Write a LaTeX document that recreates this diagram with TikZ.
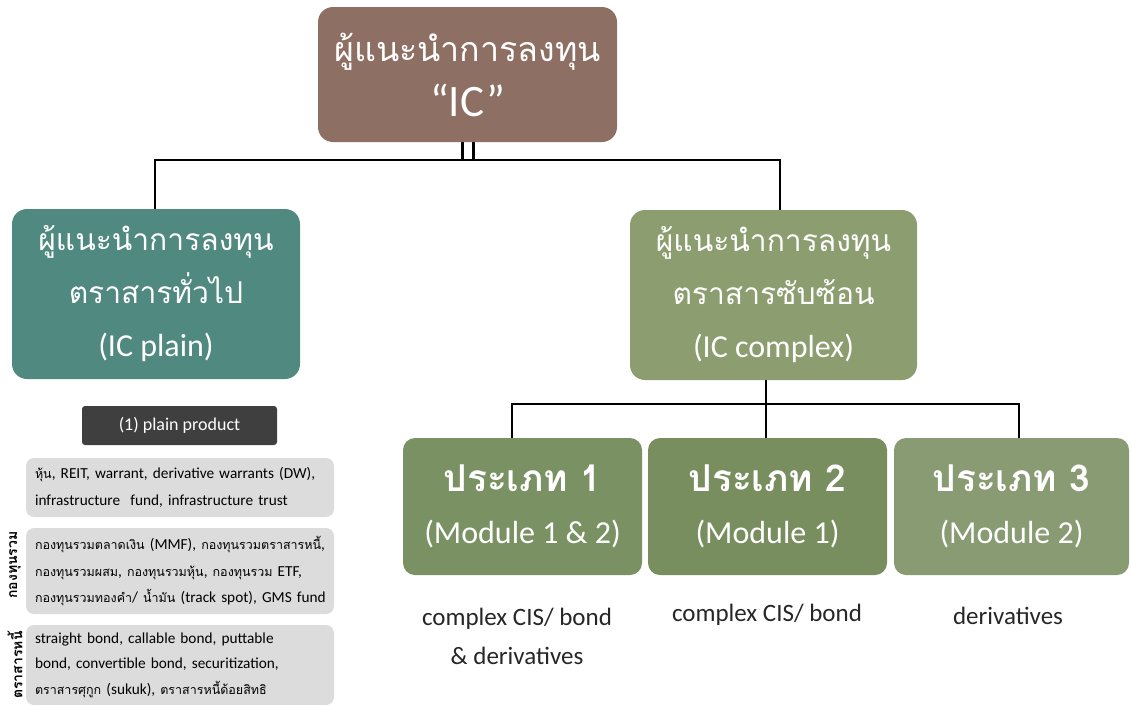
\documentclass[tikz,border=0pt]{standalone}
\usepackage{fontspec}
\setmainfont{Carlito}
\newfontfamily\thf[Script=Thai]{Loma}
\newcommand{\TT}[1]{{\thf\fontsize{12.5}{27}\selectfont #1}}
\definecolor{topc}{HTML}{8E6F64}
\definecolor{tealc}{HTML}{508980}
\definecolor{cplxc}{HTML}{8C9E70}
\definecolor{tonec}{HTML}{7A9263}
\definecolor{ttwoc}{HTML}{798E5F}
\definecolor{tthreec}{HTML}{899B73}
\definecolor{darkc}{HTML}{3F3F3F}
\definecolor{grayc}{HTML}{DCDCDC}
\begin{document}
\begin{tikzpicture}[x=1pt,y=-1pt,
  bigbox/.style={rounded corners=15pt, text=white, align=center, inner sep=0pt},
  typebox/.style={rounded corners=12pt, text=white, align=center, inner sep=0pt, minimum width=239pt, minimum height=137pt},
  graybox/.style={rounded corners=8pt, fill=grayc, minimum width=308pt, align=left, inner sep=0pt, text width=290pt},
  conn/.style={line width=2.2pt, black},
  lbl/.style={align=center, font=\fontsize{25}{39}\selectfont, text=black!85},
  side/.style={rotate=90, font=\thf\bfseries\fontsize{14}{16}\selectfont}]
\useasboundingbox (0,0) rectangle (1131,704);
% top
\node[bigbox, fill=topc, minimum width=299pt, minimum height=135pt,
  font=\fontsize{45}{55}\selectfont] (top) at (467.5,74.5)
  {{\thf\fontsize{34}{55}\selectfont ผู้แนะนำการลงทุน}\\“IC”};
\node[bigbox, fill=tealc, minimum width=288pt, minimum height=170pt,
  font=\fontsize{32}{53}\selectfont] (plain) at (156,294)
  {{\thf\fontsize{30}{53}\selectfont ผู้แนะนำการลงทุน}\\{\thf\fontsize{30}{53}\selectfont ตราสารทั่วไป}\\(IC plain)};
\node[bigbox, fill=cplxc, minimum width=287pt, minimum height=170pt,
  font=\fontsize{32}{53}\selectfont] (cplx) at (773.5,295)
  {{\thf\fontsize{30}{53}\selectfont ผู้แนะนำการลงทุน}\\{\thf\fontsize{30}{53}\selectfont ตราสารซับซ้อน}\\(IC complex)};
% types
\node[typebox, fill=tonec, font=\fontsize{32}{52}\selectfont] (t1) at (522.5,506.5)
  {{\thf\bfseries\fontsize{37}{52}\selectfont ประเภท 1}\\(Module 1 \& 2)};
\node[typebox, fill=ttwoc, font=\fontsize{32}{52}\selectfont] (t2) at (767.5,506.5)
  {{\thf\bfseries\fontsize{37}{52}\selectfont ประเภท 2}\\(Module 1)};
\node[typebox, fill=tthreec, minimum width=235pt, font=\fontsize{32}{52}\selectfont] (t3) at (1011.5,506.5)
  {{\thf\bfseries\fontsize{37}{52}\selectfont ประเภท 3}\\(Module 2)};
% labels
\node[lbl] (l1) at (517,636) {complex CIS/ bond\\\& derivatives};
\node[lbl] (l2) at (767,615) {complex CIS/ bond};
\node[lbl] (l3) at (1008,616) {derivatives};
% plain product
\node[rounded corners=3pt, fill=darkc, text=white, minimum width=195pt, minimum height=39pt,
  font=\fontsize{18}{20}\selectfont] (pp) at (179.5,425.5) {(1) plain product};
\node[graybox, minimum height=59pt, font=\fontsize{15.3}{27}\selectfont] (g1) at (180,487.5)
  {\mbox{\TT{หุ้น}, REIT, warrant, derivative warrants (DW),}\\\mbox{infrastructure\ \ fund, infrastructure trust}};
\node[graybox, minimum height=86pt, font=\fontsize{15.3}{26.5}\selectfont] (g2) at (180,571)
  {\mbox{\TT{กองทุนรวมตลาดเงิน} (MMF), \TT{กองทุนรวมตราสารหนี้},}\\\mbox{\TT{กองทุนรวมผสม},\ \TT{กองทุนรวมหุ้น},\ \TT{กองทุนรวม}\ ETF,}\\\mbox{\TT{กองทุนรวมทองคำ}/ \TT{น้ำมัน} (track spot), GMS fund}};
\node[graybox, minimum height=80pt, font=\fontsize{15.3}{25.5}\selectfont] (g3) at (180,665)
  {\mbox{straight bond, callable bond, puttable}\\\mbox{bond, convertible bond, securitization,}\\\mbox{\TT{ตราสารศุกูก} (sukuk), \TT{ตราสารหนี้ด้อยสิทธิ}}};
\node[side] (s1) at (15,565) {กองทุนรวม};
\node[side] (s2) at (15,665) {ตราสารหนี้};
% connectors
\coordinate (h1) at (467.5,160);
\coordinate (h2) at (766,404);
\draw[conn] ([xshift=-5pt]top.south) -- ([xshift=-5pt]h1);
\draw[conn] ([xshift=6pt]top.south) -- ([xshift=6pt]h1);
\draw[conn] ([xshift=-1pt]plain.north) |- (h1) -| ([xshift=6.5pt]cplx.north);
\draw[conn] ([xshift=-7.5pt]cplx.south) -- (h2);
\draw[conn] ([xshift=-10.5pt]t1.north) |- (h2) -| ([xshift=7.5pt]t3.north);
\draw[conn] ([xshift=-1.5pt]t2.north) -- ([xshift=-1.5pt]t2.north |- h2);
\end{tikzpicture}
\end{document}
